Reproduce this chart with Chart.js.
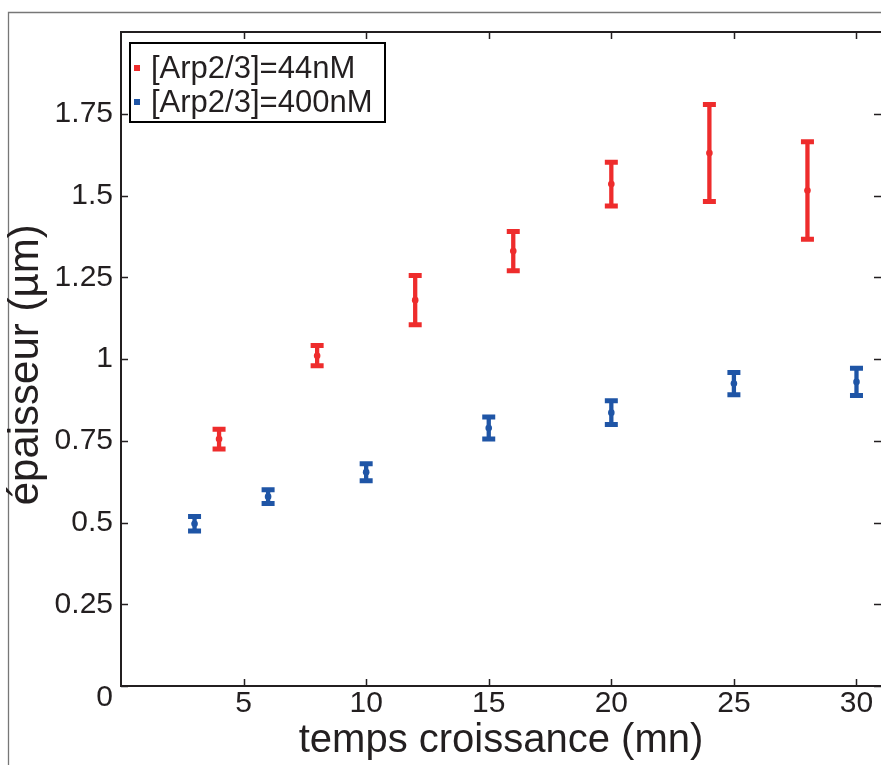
<!DOCTYPE html>
<html>
<head>
<meta charset="utf-8">
<script src="https://cdn.jsdelivr.net/npm/chart.js@4.4.0/dist/chart.umd.min.js"></script>
<style>
  body { margin: 0; background: #fff; }
  #wrap { width: 881px; height: 765px; }
</style>
</head>
<body>
<div id="wrap"><canvas id="myChart" width="881" height="765"></canvas></div>
<script>
// ---- data ----
const redX = [4, 8, 12, 16, 20, 24, 28];
const redY = [0.755, 1.01, 1.18, 1.33, 1.535, 1.63, 1.515];
const redErr = [0.03, 0.031, 0.075, 0.06, 0.067, 0.148, 0.149];

const blueX = [3, 6, 10, 15, 20, 25, 30];
const blueY = [0.496, 0.579, 0.654, 0.789, 0.836, 0.925, 0.93];
const blueErr = [0.022, 0.021, 0.026, 0.034, 0.036, 0.034, 0.042];

const xTickVals = [5, 10, 15, 20, 25, 30];
const yTickVals = [0, 0.25, 0.5, 0.75, 1, 1.25, 1.5, 1.75];
const yTickLabels = ["0", "0.25", "0.5", "0.75", "1", "1.25", "1.5", "1.75"];

const RED = "#ee2c2c";
const BLUE = "#1f55a6";
const INK = "#231f20";
const FONT = "'Liberation Sans', Arial, Helvetica, sans-serif";

function toPoints(xs, ys) {
  return xs.map(function(x, i) { return { x: x, y: ys[i] }; });
}

// =========================
// ======= PLUGIN ==========
//==========================

const matlabLook = {
  id: "matlabLook",
  beforeDraw(chart) {
    const c = chart.ctx;
    c.save();
    c.fillStyle = "#fff";
    c.fillRect(0, 0, chart.width, chart.height);
    // outer figure frame
    c.strokeStyle = "#777";
    c.lineWidth = 1.3;
    c.beginPath();
    c.moveTo(8.5, chart.height);
    c.lineTo(8.5, 12.5);
    c.lineTo(chart.width, 12.5);
    c.stroke();
    c.restore();
  },
  beforeDatasetsDraw(chart) {
    const c = chart.ctx;
    const xs = chart.scales.x;
    const ys = chart.scales.y;
    c.save();
    chart.data.datasets.forEach(function(ds) {
      c.strokeStyle = ds.borderColor;
      ds.data.forEach(function(p, i) {
        const px = xs.getPixelForValue(p.x);
        const top = ys.getPixelForValue(p.y + ds.errors[i]);
        const bot = ys.getPixelForValue(p.y - ds.errors[i]);
        c.lineWidth = 4.3;
        c.beginPath();
        c.moveTo(px, top);
        c.lineTo(px, bot);
        c.stroke();
        c.lineWidth = 5;
        c.beginPath();
        c.moveTo(px - 6.5, top);
        c.lineTo(px + 6.5, top);
        c.moveTo(px - 6.5, bot);
        c.lineTo(px + 6.5, bot);
        c.stroke();
      });
    });
    c.restore();
  },
  afterDraw(chart) {
    const c = chart.ctx;
    const a = chart.chartArea;
    const xs = chart.scales.x;
    const ys = chart.scales.y;
    // the right side of the axes box is cut off by the picture edge
    const right = chart.width + 2;
    c.save();
    // axes box (left, top, bottom)
    c.strokeStyle = INK;
    c.lineWidth = 2;
    c.beginPath();
    c.moveTo(right, a.top);
    c.lineTo(a.left, a.top);
    c.lineTo(a.left, a.bottom);
    c.lineTo(right, a.bottom);
    c.stroke();
    // inward ticks on all four sides
    c.lineWidth = 1.5;
    c.beginPath();
    xTickVals.forEach(function(v) {
      const px = Math.round(xs.getPixelForValue(v)) + 0.5;
      c.moveTo(px, a.bottom);
      c.lineTo(px, a.bottom - 7);
      c.moveTo(px, a.top);
      c.lineTo(px, a.top + 7);
    });
    yTickVals.forEach(function(v) {
      const py = Math.round(ys.getPixelForValue(v)) + 0.5;
      c.moveTo(a.left, py);
      c.lineTo(a.left + 7, py);
      c.moveTo(right - 2, py);
      c.lineTo(right - 9, py);
    });
    c.stroke();

    // the "0" label sits a little lower, as in the original
    c.fillStyle = INK;
    c.font = "30px " + FONT;
    c.textAlign = "right";
    c.textBaseline = "middle";
    c.fillText(yTickLabels[0], a.left - 8, ys.getPixelForValue(yTickVals[0]) + 12);

    // legend box
    const lx = 130, ly = 43, lw = 255, lh = 79;
    c.fillStyle = "#fff";
    c.fillRect(lx, ly, lw, lh);
    c.strokeStyle = "#000";
    c.lineWidth = 2;
    c.strokeRect(lx, ly, lw, lh);
    c.font = "31px " + FONT;
    c.textAlign = "left";
    c.textBaseline = "alphabetic";
    chart.data.datasets.forEach(function(ds, i) {
      const rowY = ly + 25 + i * 34;
      c.fillStyle = ds.borderColor;
      c.fillRect(lx + 4, rowY - 3, 6, 6);
      c.fillStyle = INK;
      c.fillText(ds.label, lx + 21, rowY + 10);
    });
    c.restore();
  }
};

// =========================
// ======= CHART ==========
//==========================

const ctx = document.getElementById("myChart").getContext("2d");

const chart = new Chart(ctx, {
  type: "scatter",
  data: {
    datasets: [
      {
        label: "[Arp2/3]=44nM",
        data: toPoints(redX, redY),
        errors: redErr,
        borderColor: RED,
        backgroundColor: RED,
        pointRadius: 3.3,
        borderWidth: 0
      },
      {
        label: "[Arp2/3]=400nM",
        data: toPoints(blueX, blueY),
        errors: blueErr,
        borderColor: BLUE,
        backgroundColor: BLUE,
        pointRadius: 3.3,
        borderWidth: 0
      }
    ]
  },
  options: {
    responsive: false,
    animation: false,
    devicePixelRatio: 1,
    layout: { autoPadding: false, padding: { top: 32, right: -1, bottom: 0, left: 0 } },
    plugins: {
      legend: { display: false },
      tooltip: { enabled: false }
    },
    scales: {
      x: {
        type: "linear",
        min: 0,
        max: 31,
        grid: { display: false, drawTicks: false },
        border: { display: false },
        afterBuildTicks: function(scale) {
          scale.ticks = xTickVals.map(function(v) { return { value: v }; });
        },
        afterFit: function(scale) { scale.height = 79; },
        ticks: {
          autoSkip: false,
          maxRotation: 0,
          padding: 0,
          color: INK,
          font: { family: FONT, size: 30 }
        },
        title: {
          display: true,
          text: "temps croissance (mn)",
          color: INK,
          font: { family: FONT, size: 40 },
          padding: { top: 0, bottom: 0 }
        }
      },
      y: {
        type: "linear",
        min: 0,
        max: 2,
        grid: { display: false, drawTicks: false },
        border: { display: false },
        afterBuildTicks: function(scale) {
          scale.ticks = yTickVals.map(function(v) { return { value: v }; });
        },
        afterFit: function(scale) { scale.width = 121; },
        ticks: {
          autoSkip: false,
          padding: 8,
          color: INK,
          font: { family: FONT, size: 30 },
          callback: function(value) {
            const i = yTickVals.indexOf(value);
            // "0" is drawn by the plugin, slightly offset
            return i > 0 ? yTickLabels[i] : "";
          }
        },
        title: {
          display: true,
          text: "épaisseur (µm) ",
          color: INK,
          font: { family: FONT, size: 42 },
          padding: { top: 1, bottom: 0 }
        }
      }
    }
  },
  plugins: [matlabLook]
});
</script>
</body>
</html>
